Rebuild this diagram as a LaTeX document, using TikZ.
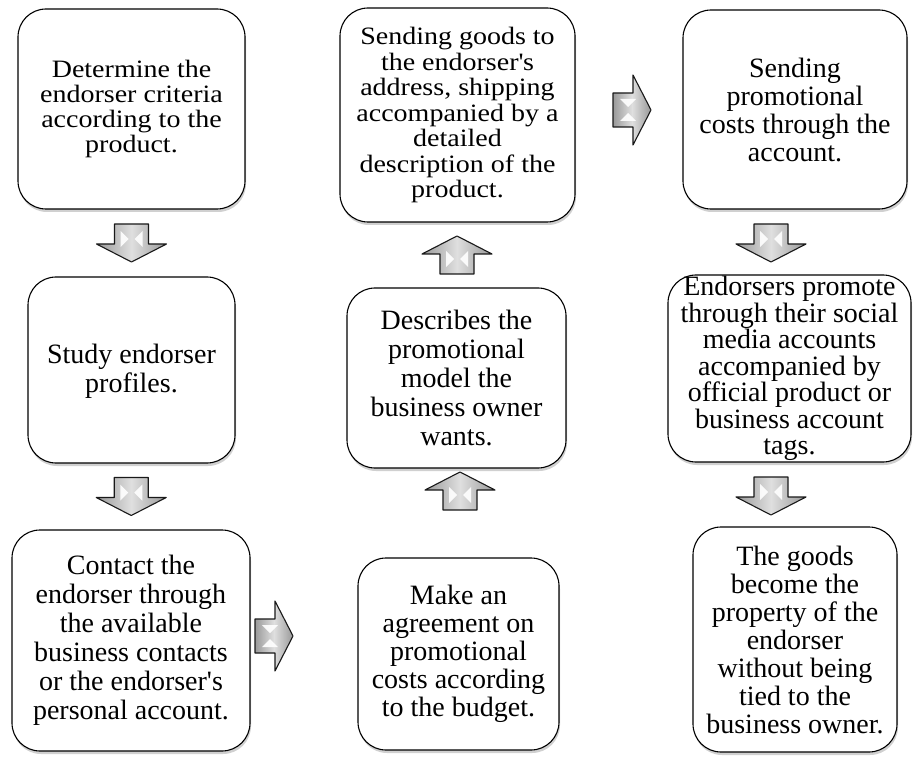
\documentclass[tikz,border=0pt]{standalone}
\usepackage{fontspec}
\setmainfont{Liberation Serif}
\newfontfamily\widefont{Liberation Serif}[FakeStretch=1.12]
\usetikzlibrary{shadows,calc}
\tikzset{
  box/.style={draw=black, line width=1.1pt, rounded corners=28pt, fill=white, align=center, inner sep=0pt,
    drop shadow={opacity=0.3, shadow xshift=1pt, shadow yshift=-3pt, fill=black!60}},
  arrowfill/.style={draw=black!90, line width=1.1pt, line join=round, left color=gray!80, right color=gray!80, middle color=gray!25},
  pics/blockarrow/.style={code={
    \path[arrowfill,#1] (-17,-19) -- (17,-19) -- (17,1) -- (35,1) -- (0,19) -- (-35,1) -- (-17,1) -- cycle;
    \fill[white, opacity=0.9] (-11,-12) -- (-3,-4) -- (-11,4) -- cycle;
    \fill[white, opacity=0.9] (11,-12) -- (3,-4) -- (11,4) -- cycle;
  }}
}
\newcommand{\fs}[1]{\fontsize{28}{#1}\selectfont}
\newcommand{\fw}[1]{\widefont\fontsize{25}{#1}\selectfont}
\begin{document}
\begin{tikzpicture}[x=1pt,y=-1pt]
\useasboundingbox[fill=white] (0,0) rectangle (913,759);
% left column
\node[box, minimum width=227pt, minimum height=200pt, font=\fw{25}] (b1) at (131.5,109)
  {Determine the\\endorser criteria\\according to the\\product.};
\node[box, minimum width=207pt, minimum height=186pt, font=\fs{29}] (b2) at (131.5,370)
  {\\[-8pt]Study endorser\\profiles.};
\node[box, minimum width=238pt, minimum height=221pt, font=\fs{29}] (b3) at (131,640.5)
  {Contact the\\endorser through\\the available\\business contacts\\or the endorser\textquotesingle s\\personal account.};
% middle column
\node[box, minimum width=201pt, minimum height=192pt, font=\fs{28}] (b4) at (458.5,654)
  {Make an\\agreement on\\promotional\\costs according\\to the budget.};
\node[box, minimum width=219pt, minimum height=180pt, font=\fs{29}] (b5) at (456.5,378)
  {Describes the\\promotional\\model the\\business owner\\wants.};
\node[box, minimum width=235pt, minimum height=214pt, font=\fw{25.5}] (b6) at (457.5,115)
  {Sending goods to\\the endorser\textquotesingle s\\address, shipping\\accompanied by a\\detailed\\description of the\\product.};
% right column
\node[box, minimum width=224pt, minimum height=199pt, font=\fs{28}] (b7) at (795,109.5)
  {Sending\\promotional\\costs through the\\account.};
\node[box, minimum width=243pt, minimum height=187pt, font=\fs{26.5}] (b8) at (789.5,368.5)
  {Endorsers promote\\through their social\\media accounts\\accompanied by\\official product or\\business account\\tags.};
\node[box, minimum width=204pt, minimum height=225pt, font=\fs{28}] (b9) at (795,639.5)
  {The goods\\become the\\property of the\\endorser\\without being\\tied to the\\business owner.};
% block arrows
\pic at ($(b1.south)!0.5!(b2.north)$) {blockarrow};
\pic at ($(b2.south)!0.5!(b3.north)$) {blockarrow};
\pic[rotate=90] at (274,636) {blockarrow};
\pic[rotate=180] at (460,491) {blockarrow};
\pic[rotate=180] at ($(b6.south)!0.5!(b5.north)$) {blockarrow};
\pic[rotate=90] at (632,110) {blockarrow};
\pic at (771,243) {blockarrow};
\pic at (771,496) {blockarrow};
\end{tikzpicture}
\end{document}
